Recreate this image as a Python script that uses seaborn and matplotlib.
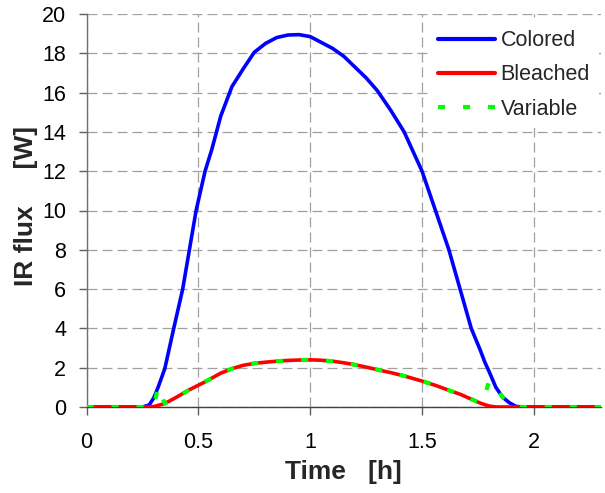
import matplotlib
matplotlib.use("Agg")
import matplotlib.pyplot as plt
import seaborn as sns
import pandas as pd

# ---- data ----
time_h = [0.00, 0.10, 0.20, 0.25, 0.28, 0.30, 0.32, 0.35, 0.39, 0.43, 0.46, 0.49,
          0.53, 0.56, 0.60, 0.65, 0.70, 0.75, 0.80, 0.85, 0.90, 0.95, 1.00, 1.05,
          1.10, 1.15, 1.20, 1.25, 1.30, 1.36, 1.42, 1.50, 1.56, 1.62, 1.67, 1.72,
          1.76, 1.78, 1.80, 1.83, 1.86, 1.89, 1.92, 1.95, 2.00, 2.10, 2.20, 2.30]

colored = [0.00, 0.00, 0.00, 0.00, 0.10, 0.45, 1.00, 1.95, 4.00, 6.00, 8.00, 10.00,
           12.00, 13.10, 14.80, 16.30, 17.20, 18.05, 18.50, 18.80, 18.93, 18.95, 18.85, 18.55,
           18.25, 17.85, 17.30, 16.75, 16.10, 15.10, 14.00, 12.00, 10.00, 8.00, 6.00, 4.00,
           2.90, 2.30, 1.80, 1.00, 0.50, 0.22, 0.03, 0.00, 0.00, 0.00, 0.00, 0.00]

bleached = [0.00, 0.00, 0.00, 0.00, 0.00, 0.02, 0.08, 0.18, 0.42, 0.68, 0.88, 1.05,
            1.28, 1.47, 1.72, 1.95, 2.12, 2.22, 2.28, 2.33, 2.37, 2.39, 2.40, 2.38,
            2.33, 2.25, 2.15, 2.03, 1.90, 1.75, 1.58, 1.32, 1.10, 0.85, 0.65, 0.40,
            0.20, 0.12, 0.05, 0.00, 0.00, 0.00, 0.00, 0.00, 0.00, 0.00, 0.00, 0.00]

variable = [0.00, 0.00, 0.00, 0.00, 0.00, 0.02, 1.00, 0.18, 0.42, 0.68, 0.88, 1.05,
            1.28, 1.47, 1.72, 1.95, 2.12, 2.22, 2.28, 2.33, 2.37, 2.39, 2.40, 2.38,
            2.33, 2.25, 2.15, 2.03, 1.90, 1.75, 1.58, 1.32, 1.10, 0.85, 0.65, 0.40,
            0.20, 0.60, 1.30, 1.00, 0.50, 0.22, 0.03, 0.00, 0.00, 0.00, 0.00, 0.00]

series_names = ["Colored", "Bleached", "Variable"]
x_ticks = [0, 0.5, 1, 1.5, 2]
x_tick_labels = ["0", "0.5", "1", "1.5", "2"]
y_ticks = [0, 2, 4, 6, 8, 10, 12, 14, 16, 18, 20]

# ---- styling ----
sns.set_style("white")
plt.rcParams["font.family"] = ["Liberation Sans", "DejaVu Sans"]

fig = plt.figure(figsize=(6.05, 4.93), dpi=100)
W, H = 605, 493
left, right, top, bottom = 86.5, 601, 14, 407
ax = fig.add_axes([left / W, 1 - bottom / H, (right - left) / W, (bottom - top) / H])

df = pd.DataFrame({"Time": time_h, "Colored": colored, "Bleached": bleached, "Variable": variable})

sns.lineplot(data=df, x="Time", y="Colored", ax=ax, color="#0000FF", lw=2.6,
             label=series_names[0], zorder=3)
sns.lineplot(data=df, x="Time", y="Bleached", ax=ax, color="#FF0000", lw=2.6,
             label=series_names[1], zorder=4)
sns.lineplot(data=df, x="Time", y="Variable", ax=ax, color="#00FF00", lw=3.0,
             label=series_names[2], zorder=5)
green = ax.get_lines()[-1]
green.set_dashes([1.7, 4.3])
green.set_dash_capstyle("butt")

ax.set_xlim(0, 2.3)
ax.set_ylim(0, 20)
ax.set_xticks(x_ticks)
ax.set_xticklabels(x_tick_labels)
ax.set_yticks(y_ticks)

ax.grid(True, color="#a0a0a0", linestyle=(0, (8, 4)), linewidth=0.9, zorder=0)
ax.set_axisbelow(True)

for s in ["top", "right"]:
    ax.spines[s].set_visible(False)
ax.spines["left"].set_color("#707070")
ax.spines["bottom"].set_color("#404040")
for s in ["left", "bottom"]:
    ax.spines[s].set_linewidth(1.0)

ax.tick_params(axis="both", which="major", direction="out", length=5.5, width=1.0,
               color="#606060", labelsize=15.5, labelcolor="black",
               bottom=True, left=True)
ax.tick_params(axis="x", pad=12.5)
ax.tick_params(axis="y", pad=9)

ax.set_xlabel("Time   [h]", fontsize=19, fontweight="bold")
ax.set_ylabel("IR flux     [W]", fontsize=19, fontweight="bold")
ax.xaxis.set_label_coords(0.5, -(460 - bottom) / (bottom - top))
ax.yaxis.set_label_coords(-(left - 37.5) / (right - left), (bottom - 206) / (bottom - top))

leg = ax.legend(loc="upper right",
                bbox_to_anchor=(1 - 2.5 / (right - left), 1 - 7.5 / (bottom - top)),
                fontsize=15.5, frameon=True, framealpha=1,
                facecolor="white", edgecolor="none", handlelength=2.65,
                handletextpad=0.25, labelspacing=0.62, borderaxespad=0.0,
                borderpad=0.4)
for h in leg.get_lines():
    h.set_linewidth(3.0)
leg.get_lines()[2].set_dashes([1.7, 4.3])

fig.savefig("out.png", dpi=100, facecolor="white")
